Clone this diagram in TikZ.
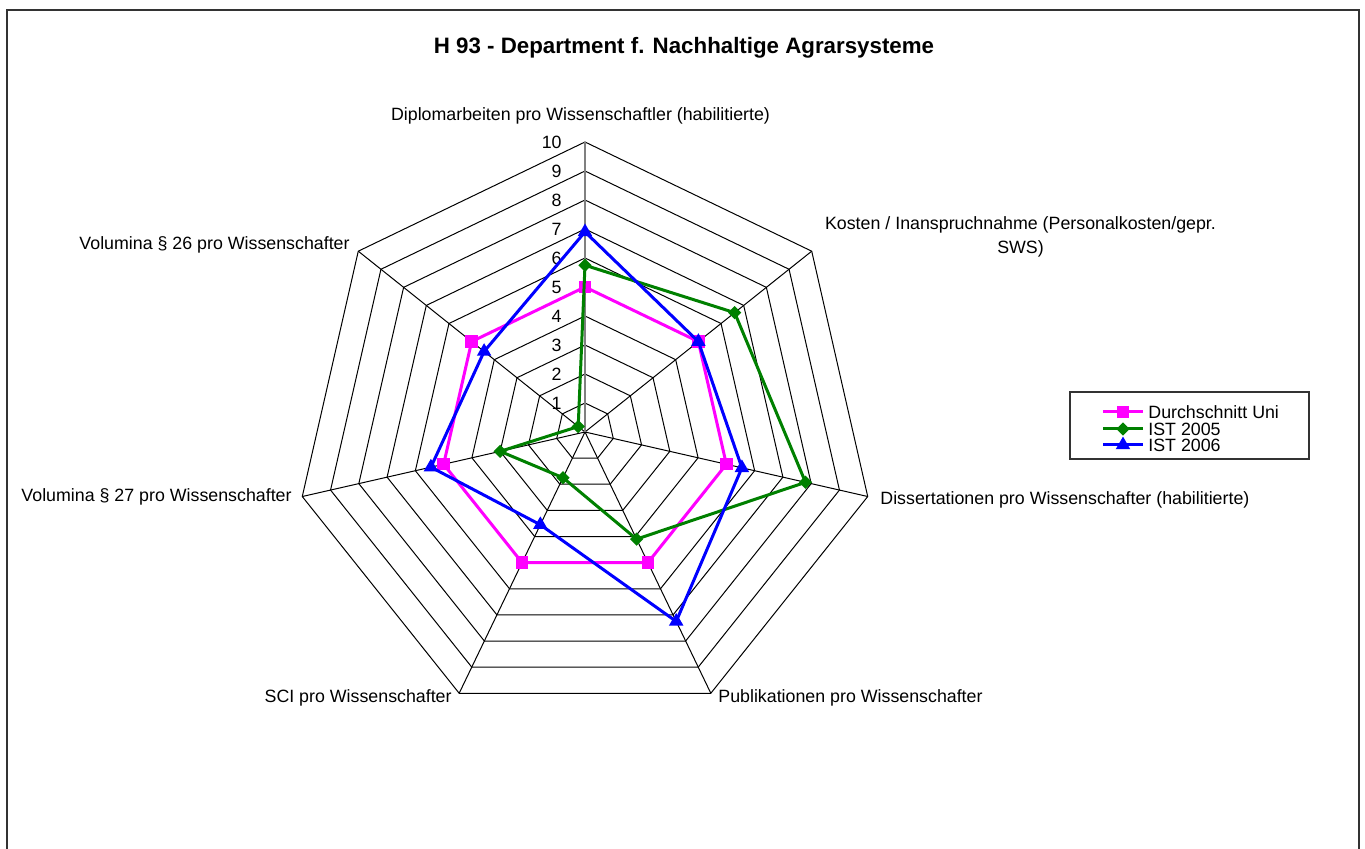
\documentclass[tikz,border=0pt]{standalone}
\usepackage{fontspec}
\setmainfont{Liberation Sans}
\usetikzlibrary{shapes.geometric,calc}
\definecolor{xlgreen}{RGB}{0,128,0}
\definecolor{xlmagenta}{RGB}{255,0,255}
\definecolor{xlblue}{RGB}{0,0,255}

\begin{document}
\begin{tikzpicture}[x=0.5pt,y=0.5pt,
    web/.style={draw=black,line width=0.5pt},
    valaxis/.style={draw=black!50,line width=1pt},
    frame/.style={draw=black!80,line width=0.9pt},
    lbl/.style={inner sep=0pt,font=\fontsize{8.9}{12}\selectfont},
    tick/.style={lbl,anchor=east},
    avgline/.style={draw=xlmagenta,line width=1.5pt,line join=round},
    ist5line/.style={draw=xlgreen,line width=1.5pt,line join=round},
    ist6line/.style={draw=xlblue,line width=1.5pt,line join=round},
    sqmark/.style={rectangle,fill=xlmagenta,inner sep=0pt,minimum size=6.2pt},
    dmmark/.style={diamond,fill=xlgreen,inner sep=0pt,minimum size=6.8pt},
    trmark/.style={regular polygon,regular polygon sides=3,fill=xlblue,inner sep=0pt,minimum size=8.4pt}]
  \useasboundingbox (-585,-417) rectangle (780,432);
  \clip (-585,-417) rectangle (780,432);
  \draw[frame] (-578,-440) -- (-578,422) -- (774,422) -- (774,-440);

  \node[inner sep=0pt,font=\fontsize{11.15}{13}\selectfont\bfseries] (title) at (99,384)
    {H 93 - Department f. Nachhaltige Agrarsysteme};

  % web
  \foreach \k in {1,...,10}
    \draw[web] (90:29*\k) \foreach \a in {1,...,6} { -- ({90-\a*360/7}:29*\k) } -- cycle;
  \foreach \a in {1,...,6}
    \draw[web] (0,0) -- ({90-\a*360/7}:290);
  \draw[valaxis] (0,0) -- (90:290);
  \foreach \k in {1,...,10}
    \node[tick] (tick\k) at (-23,29*\k) {\k};

  % category labels
  \node[lbl] (lab_dipl) at (-4.5,316) {Diplomarbeiten pro Wissenschaftler (habilitierte)};
  \node[lbl,align=center] (lab_kost) at (435.5,195) {Kosten / Inanspruchnahme (Personalkosten/gepr.\\SWS)};
  \node[lbl,anchor=west] (lab_diss) at (295,-68) {Dissertationen pro Wissenschafter (habilitierte)};
  \node[lbl,anchor=west] (lab_publ) at (133,-266) {Publikationen pro Wissenschafter};
  \node[lbl,anchor=east] (lab_sci) at (-133,-266) {SCI pro Wissenschafter};
  \node[lbl,anchor=east] (lab_vol27) at (-293,-65) {Volumina § 27 pro Wissenschafter};
  \node[lbl,anchor=east] (lab_vol26) at (-235,187) {Volumina § 26 pro Wissenschafter};

  % Durchschnitt Uni
  \coordinate (avg_1) at (90:145);
  \coordinate (avg_2) at (38.57:145);
  \coordinate (avg_3) at (-12.86:145);
  \coordinate (avg_4) at (-64.29:145);
  \coordinate (avg_5) at (-115.71:145);
  \coordinate (avg_6) at (-167.14:145);
  \coordinate (avg_7) at (141.43:145);
  \draw[avgline] (avg_1) -- (avg_2) -- (avg_3) -- (avg_4) -- (avg_5) -- (avg_6) -- (avg_7) -- cycle;
  \foreach \i in {1,...,7}
    \node[sqmark] (avgm_\i) at (avg_\i) {};

  % IST 2005
  \coordinate (ist5_1) at (90:166.75);
  \coordinate (ist5_2) at (38.57:191.4);
  \coordinate (ist5_3) at (-12.86:226.2);
  \coordinate (ist5_4) at (-64.29:118.9);
  \coordinate (ist5_5) at (-115.71:50.75);
  \coordinate (ist5_6) at (-167.14:87);
  \coordinate (ist5_7) at (141.43:8.7);
  \draw[ist5line] (ist5_1) -- (ist5_2) -- (ist5_3) -- (ist5_4) -- (ist5_5) -- (ist5_6) -- (ist5_7) -- cycle;
  \foreach \i in {1,...,7}
    \node[dmmark] (ist5m_\i) at (ist5_\i) {};

  % IST 2006
  \coordinate (ist6_1) at (90:200.1);
  \coordinate (ist6_2) at (38.57:145);
  \coordinate (ist6_3) at (-12.86:160.95);
  \coordinate (ist6_4) at (-64.29:210.25);
  \coordinate (ist6_5) at (-115.71:102.95);
  \coordinate (ist6_6) at (-167.14:158.05);
  \coordinate (ist6_7) at (141.43:129.05);
  \draw[ist6line] (ist6_1) -- (ist6_2) -- (ist6_3) -- (ist6_4) -- (ist6_5) -- (ist6_6) -- (ist6_7) -- cycle;
  \foreach \i in {1,...,7}
    \node[trmark] (ist6m_\i) at (ist6_\i) {};

  % legend
  \draw[frame,line width=0.7pt] (485,40) rectangle (724,-27);
  \coordinate (lg1a) at (518,20);  \coordinate (lg1b) at (558,20);
  \coordinate (lg2a) at (518,3);   \coordinate (lg2b) at (558,3);
  \coordinate (lg3a) at (518,-13); \coordinate (lg3b) at (558,-13);
  \draw[avgline] (lg1a) -- (lg1b);
  \draw[ist5line] (lg2a) -- (lg2b);
  \draw[ist6line] (lg3a) -- (lg3b);
  \node[sqmark] (lgm1) at ($(lg1a)!0.5!(lg1b)$) {};
  \node[dmmark] (lgm2) at ($(lg2a)!0.5!(lg2b)$) {};
  \node[trmark] (lgm3) at ($(lg3a)!0.5!(lg3b)$) {};
  \node[lbl,anchor=west] (lgt1) at (563,20) {Durchschnitt Uni};
  \node[lbl,anchor=west] (lgt2) at (563,3) {IST 2005};
  \node[lbl,anchor=west] (lgt3) at (563,-13) {IST 2006};
\end{tikzpicture}
\end{document}
